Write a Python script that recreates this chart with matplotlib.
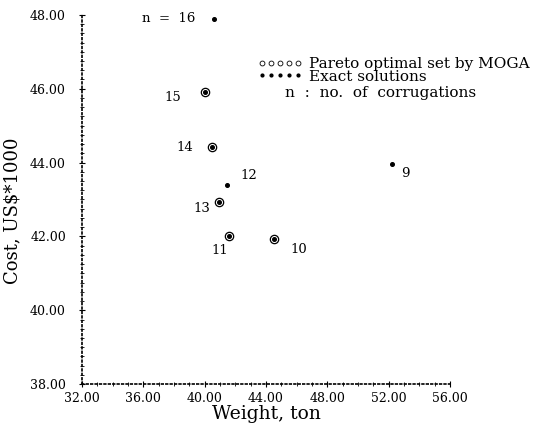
import numpy as np
import matplotlib.pyplot as plt
from matplotlib.lines import Line2D
from matplotlib.ticker import MultipleLocator, FormatStrFormatter

plt.rcParams['font.family'] = ['DejaVu Serif']

# Exact solutions (all corrugation counts)
n_exact = [9, 10, 11, 12, 13, 14, 15, 16]
w_exact = [52.22, 44.52, 41.59, 41.46, 40.94, 40.48, 40.02, 40.61]
c_exact = [43.96, 41.93, 42.01, 43.39, 42.93, 44.42, 45.91, 47.89]

# Pareto optimal set found by MOGA
n_moga = [10, 11, 13, 14, 15]
w_moga = [44.52, 41.59, 40.94, 40.48, 40.02]
c_moga = [41.93, 42.01, 42.93, 44.42, 45.91]

# label texts and offsets (pixels) from each exact point
labels = ['9', '10', '11', '12', '13', '14', '15', 'n  =  16']
offs = {9: (9, -9, 'left'), 10: (16, -10, 'left'), 11: (-1, -14, 'right'),
        12: (13, 10, 'left'), 13: (-9, -6, 'right'), 14: (-19, 0, 'right'),
        15: (-24, -5, 'right'), 16: (-19, 0, 'right')}

fig = plt.figure(figsize=(5.39, 4.24), dpi=100)
ax = fig.add_axes([0.152, 0.094, 0.683, 0.871])

ax.plot(w_moga, c_moga, linestyle='none', marker='o', ms=6, mfc='none',
        mec='black', mew=0.9)
ax.plot(w_exact, c_exact, linestyle='none', marker='o', ms=2.6,
        color='black')

for n, w, c, t in zip(n_exact, w_exact, c_exact, labels):
    dx, dy, ha = offs[n]
    ax.annotate(t, (w, c), xytext=(dx * 0.72, dy * 0.72),
                textcoords='offset points', ha=ha, va='center', fontsize=9.5)

ax.set_xlim(32, 56)
ax.set_ylim(38, 48)
ax.xaxis.set_major_locator(MultipleLocator(4))
ax.xaxis.set_minor_locator(MultipleLocator(1))
ax.yaxis.set_major_locator(MultipleLocator(2))
ax.yaxis.set_minor_locator(MultipleLocator(0.25))
ax.xaxis.set_major_formatter(FormatStrFormatter('%.2f'))
ax.yaxis.set_major_formatter(FormatStrFormatter('%.2f'))
ax.tick_params(axis='both', which='major', direction='inout', length=5,
               width=0.8, labelsize=9)
ax.tick_params(axis='both', which='minor', direction='inout', length=3,
               width=0.6)
ax.tick_params(axis='y', pad=9)
ax.tick_params(axis='x', pad=3)

for s in ['top', 'right']:
    ax.spines[s].set_visible(False)
for s in ['left', 'bottom']:
    ax.spines[s].set_linestyle(':')
    ax.spines[s].set_linewidth(1.2)

ax.set_xlabel('Weight, ton', fontsize=13.5, labelpad=0)
ax.set_ylabel('Cost, US$*1000', fontsize=13)
ax.yaxis.set_label_coords(-0.165, 0.47)

handles = [Line2D([], [], linestyle='none', marker='o', ms=3.5, mfc='none',
                  mec='black', mew=0.6),
           Line2D([], [], linestyle='none', marker='o', ms=2, color='black')]
leg = ax.legend(handles, ['Pareto optimal set by MOGA', 'Exact solutions'],
                numpoints=5, handlelength=2.9, handletextpad=0.45,
                labelspacing=-0.1, frameon=False, fontsize=11,
                loc='upper left', bbox_to_anchor=(0.478, 0.885),
                borderaxespad=0, borderpad=0)
ax.text(0.552, 0.789, 'n  :  no.  of  corrugations', transform=ax.transAxes,
        fontsize=11, va='center')

fig.savefig('out.png', dpi=100)
